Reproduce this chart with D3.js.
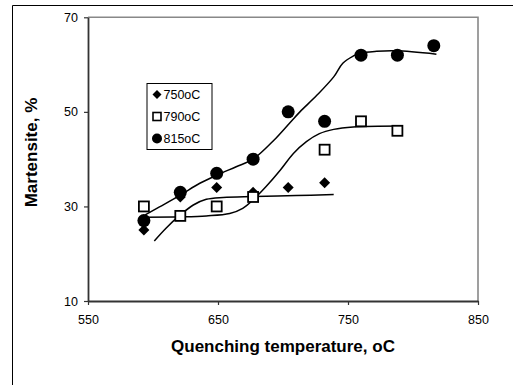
<!DOCTYPE html>
<html>
<head>
<meta charset="utf-8">
<script src="https://cdn.jsdelivr.net/npm/d3@7"></script>
<style>
  body { margin: 0; background: #fff; }
  svg { display: block; font-family: Arial, "Liberation Sans", sans-serif; }
  .tick text { font-size: 12.5px; fill: #000; }
</style>
</head>
<body>
<svg id="chart" width="513" height="385"></svg>
<script>
// quenching temperatures (oC) of the measured points
var temps = [593, 621, 649, 677, 704, 732, 760, 788, 816];

// martensite % per intercritical temperature
var s750 = [25, 32, 34, 33, 34, 35];                 // first 6 temps
var s790 = [[593, 30], [621, 28], [649, 30], [677, 32], [732, 42], [760, 48], [788, 46]];
var s815 = [27, 33, 37, 40, 50, 48, 62, 62, 64];

// trend lines
var fit750 = [[601, 22.7], [610, 25.4], [621, 28.2], [631, 30.3], [641, 31.5], [654, 31.9], [677, 32.1], [710, 32.3], [739, 32.5]];
var fit790 = [[594, 27.7], [621, 27.8], [641, 28.0], [659, 28.5], [669, 29.6], [677, 31.4], [687, 34.2], [698, 37.7], [708, 41.2], [718, 43.7], [728, 45.4], [739, 46.3], [754, 46.8], [791, 47.0]];
var fit815 = [[594, 28.2], [605, 29.9], [621, 32.4], [636, 34.9], [649, 36.6], [664, 38.4], [677, 40.0], [693, 44.0], [705, 47.6], [713, 50.0], [726, 53.5], [739, 57.4], [746, 60.3], [754, 61.8], [759, 62.4], [772, 62.8], [787, 62.9], [818, 62.2]];

var xTicks = [550, 650, 750, 850];
var yTicks = [10, 30, 50, 70];
var legendLabels = ["750oC", "790oC", "815oC"];

var svg = d3.select("#chart");

var x = d3.scaleLinear().domain([550, 850]).range([88, 478]);
var y = d3.scaleLinear().domain([10, 70]).range([301, 17.3]);

// outer frame (only top and left show)
svg.append("path")
    .attr("d", "M12.5,385 L12.5,5.5 L513,5.5")
    .attr("fill", "none")
    .attr("stroke", "#000")
    .attr("stroke-width", 1);

// top & right of plot area, grey
svg.append("path")
    .attr("d", "M" + x(550) + "," + y(70) + " L" + x(850) + "," + y(70) + " L" + x(850) + "," + y(10))
    .attr("fill", "none")
    .attr("stroke", "#888")
    .attr("stroke-width", 1.6);

var xAxis = d3.axisBottom(x).tickValues(xTicks).tickSize(4).tickPadding(10).tickSizeOuter(0);
var yAxis = d3.axisLeft(y).tickValues(yTicks).tickSize(4).tickPadding(6).tickSizeOuter(0);

var gx = svg.append("g").attr("transform", "translate(0," + y(10) + ")").call(xAxis);
var gy = svg.append("g").attr("transform", "translate(" + x(550) + ",0)").call(yAxis);
[gx, gy].forEach(function (g) {
    g.select(".domain").attr("stroke", "#333").attr("stroke-width", 1.8);
    g.selectAll(".tick line").attr("stroke", "#333").attr("stroke-width", 1.2);
    g.selectAll(".tick text").style("font-family", "Arial, 'Liberation Sans', sans-serif");
});

// axis titles
svg.append("text")
    .attr("x", 283).attr("y", 352)
    .attr("text-anchor", "middle")
    .style("font-size", "17px").style("font-weight", "bold")
    .text("Quenching temperature, oC");

svg.append("text")
    .attr("transform", "translate(36.5,152.5) rotate(-90)")
    .attr("text-anchor", "middle")
    .style("font-size", "17px").style("font-weight", "bold")
    .text("Martensite, %");

// trend lines
var line = d3.line()
    .x(function (d) { return x(d[0]); })
    .y(function (d) { return y(d[1]); })
    .curve(d3.curveCatmullRom.alpha(0.5));

[fit750, fit790, fit815].forEach(function (f) {
    svg.append("path")
        .datum(f)
        .attr("d", line)
        .attr("fill", "none")
        .attr("stroke", "#000")
        .attr("stroke-width", 1.5);
});

// markers
var diamond = function (cx, cy, r) {
    return "M" + cx + "," + (cy - r) + " L" + (cx + r) + "," + cy + " L" + cx + "," + (cy + r) + " L" + (cx - r) + "," + cy + "Z";
};

svg.append("g").selectAll("path")
    .data(s750)
    .enter()
    .append("path")
    .attr("d", function (d, i) { return diamond(x(temps[i]), y(d), 5.5); })
    .attr("fill", "#000");

svg.append("g").selectAll("rect")
    .data(s790)
    .enter()
    .append("rect")
    .attr("x", function (d) { return x(d[0]) - 5; })
    .attr("y", function (d) { return y(d[1]) - 5; })
    .attr("width", 10).attr("height", 10)
    .attr("fill", "#fff")
    .attr("stroke", "#000")
    .attr("stroke-width", 1.8);

svg.append("g").selectAll("circle")
    .data(s815)
    .enter()
    .append("circle")
    .attr("cx", function (d, i) { return x(temps[i]); })
    .attr("cy", function (d) { return y(d); })
    .attr("r", 6.5)
    .attr("fill", "#000");

// legend
var lg = svg.append("g").attr("transform", "translate(147,83.5)");
lg.append("rect")
    .attr("width", 65).attr("height", 66)
    .attr("fill", "#fff")
    .attr("stroke", "#000")
    .attr("stroke-width", 1);

legendLabels.forEach(function (lab, i) {
    var cy = 11 + i * 22;
    if (i === 0) {
        lg.append("path").attr("d", diamond(10, cy, 4.5)).attr("fill", "#000");
    } else if (i === 1) {
        lg.append("rect").attr("x", 6).attr("y", cy - 4).attr("width", 8).attr("height", 8)
            .attr("fill", "#fff").attr("stroke", "#000").attr("stroke-width", 1.6);
    } else {
        lg.append("circle").attr("cx", 10).attr("cy", cy).attr("r", 5).attr("fill", "#000");
    }
    lg.append("text")
        .attr("x", 16.5).attr("y", cy)
        .attr("dy", "0.36em")
        .style("font-size", "12.5px")
        .text(lab);
});
</script>
</body>
</html>
